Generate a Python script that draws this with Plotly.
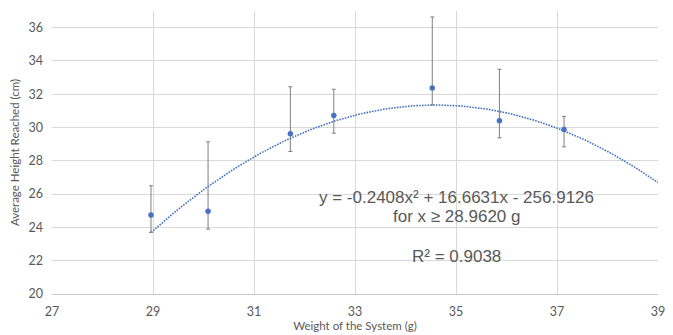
import numpy as np
import plotly.graph_objects as go

weights = [28.96, 30.09, 31.72, 32.58, 34.53, 35.86, 37.14]
heights = [24.75, 24.97, 29.62, 30.73, 32.37, 30.40, 29.88]
err_up = [1.75, 4.17, 2.83, 1.57, 4.27, 3.10, 0.79]
err_down = [1.05, 1.07, 1.06, 1.07, 1.02, 1.02, 1.04]

# trendline coefficients as printed on the chart
coef_a, coef_b, coef_c = -0.2408, 16.6631, -256.9126
fit_start, fit_end = 28.962, 39.0

x_fit = np.linspace(fit_start, fit_end, 200)
y_fit = coef_a * x_fit**2 + coef_b * x_fit + coef_c

blue = "#4472C4"
txt = "#595959"
afont = dict(family="Liberation Sans, Arial", size=17, color=txt)

fig = go.Figure()
fig.add_trace(go.Scatter(
    x=x_fit, y=y_fit, mode="lines",
    line=dict(color=blue, width=1.6, dash="1.6px,1.2px"),
    hoverinfo="skip", showlegend=False))
fig.add_trace(go.Scatter(
    x=weights, y=heights, mode="markers",
    marker=dict(color=blue, size=5.5),
    error_y=dict(type="data", symmetric=False, array=err_up, arrayminus=err_down,
                 color="#7f7f7f", thickness=1, width=2),
    showlegend=False))

fig.add_annotation(x=35.0, y=25.80, text="y = -0.2408x² + 16.6631x - 256.9126",
                   showarrow=False, font=afont)
fig.add_annotation(x=35.0, y=24.65, text="for x ≥ 28.9620 g",
                   showarrow=False, font=afont)
fig.add_annotation(x=35.0, y=22.24, text="R² = 0.9038",
                   showarrow=False, font=afont)

# page body has an 8px offset; compensate in size/margins
fig.update_layout(
    width=665, height=327,
    margin=dict(l=44, r=15, t=3, b=41),
    plot_bgcolor="white", paper_bgcolor="white",
    font=dict(family="Lato, Open Sans, sans-serif", color=txt, size=12),
)
fig.update_xaxes(range=[27, 39], tick0=27, dtick=2, showgrid=True, gridcolor="#d9d9d9",
                 gridwidth=1, zeroline=False, showline=True, linecolor="#c8c8c8",
                 ticks="", ticklabelstandoff=6, tickfont=dict(size=12.5, color=txt),
                 title=dict(text="Weight of the System (g)", font=dict(size=11.5, color=txt), standoff=2))
fig.update_yaxes(range=[20, 37], tick0=20, dtick=2, showgrid=True, gridcolor="#d9d9d9",
                 gridwidth=1, zeroline=False, showline=False,
                 ticks="", ticklabelstandoff=8, tickfont=dict(size=12.5, color=txt),
                 title=dict(text="Average Height Reached (cm)", font=dict(size=11.5, color=txt), standoff=6))

fig.write_html("out.html")
